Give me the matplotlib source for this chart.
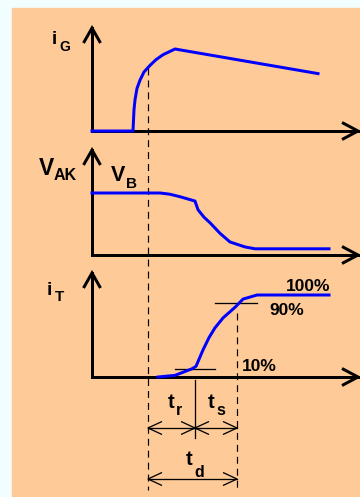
import matplotlib
matplotlib.use("Agg")
import matplotlib.pyplot as plt
import numpy as np

plt.rcParams["lines.scale_dashes"] = False
plt.rcParams["font.family"] = ["Liberation Sans", "DejaVu Sans"]

# ---- waveform data (time in µs, amplitude in % of full scale) ----
t_gate = [0.0, 4.1, 4.2, 4.3, 4.5, 4.8, 5.2, 5.8, 6.4, 7.1, 8.3, 22.6]
i_gate = [0, 0, 26, 38, 52, 62, 72, 80, 87, 93, 100, 70]

t_vak = [0.0, 6.8, 7.8, 8.8, 10.3, 10.6, 11.2, 11.8, 12.8, 13.8, 15.3, 16.3, 23.7]
v_ak = [100, 100, 98, 94, 87, 73, 61, 52, 35, 21, 13, 10, 10]

t_it = [6.6, 8.3, 10.0, 10.4, 11.1, 11.7, 12.3, 13.1, 14.3, 15.1, 16.5, 23.7]
i_t = [0, 2, 10, 13, 33, 48, 60, 72, 85, 95, 100, 100]

# switching instants (µs) and anode-current levels (%)
t_trigger = 5.6
t_10 = 10.3
t_90 = 14.5
level_10 = 10
level_90 = 90
level_labels = ["100%", "90%", "10%"]

# ---- drawing geometry (pixels) ----
W, H = 360, 497
X0 = 92            # vertical axis position
X_END = 358        # horizontal arrow tip
PX_PER_US = 10.0
panels = {           # baseline y, arrow-tip y, pixels per %
    "gate": (131, 28, 0.82),
    "vak": (255, 150, 0.62),
    "it": (377, 273, 0.82),
}

BLUE = "#0000FF"
BG = "#FECB98"

fig = plt.figure(figsize=(W / 100, H / 100), dpi=100, facecolor="#F2FEFE")
ax = fig.add_axes([0, 0, 1, 1])
ax.set_xlim(0, W)
ax.set_ylim(H, 0)
ax.axis("off")
ax.add_patch(plt.Rectangle((12, 8), W - 12, H - 8, color=BG, zorder=0))


def px_x(t):
    return X0 + np.asarray(t, float) * PX_PER_US


def px_y(panel, v):
    base, _, scale = panels[panel]
    return base - np.asarray(v, float) * scale


AX_LW = 3 * 0.72
THIN = 1.3 * 0.72


def open_head(tip, direction, length, half, lw):
    d = np.asarray(direction, float)
    d = d / np.hypot(*d)
    n = np.array([-d[1], d[0]])
    tip = np.asarray(tip, float)
    back = tip - d * length
    pts = np.array([back + n * half, tip, back - n * half])
    ax.plot(pts[:, 0], pts[:, 1], color="black", lw=lw,
            solid_joinstyle="miter", solid_capstyle="butt", zorder=3)


for name, (base, top, _) in panels.items():
    ax.plot([X0, X0, X_END], [top, base, base], color="black", lw=AX_LW,
            solid_joinstyle="miter", zorder=3)
    open_head((X0, top), (0, -1), 15, 8.5, AX_LW)
    open_head((X_END, base), (1, 0), 16, 8.5, AX_LW)

# waveforms
ax.plot(px_x(t_gate), px_y("gate", i_gate), color=BLUE, lw=AX_LW, zorder=4)
ax.plot(px_x(t_vak), px_y("vak", v_ak), color=BLUE, lw=AX_LW, zorder=4)
ax.plot(px_x(t_it), px_y("it", i_t), color=BLUE, lw=AX_LW, zorder=4)

# 10 % and 90 % markers
y10 = px_y("it", level_10)
y90 = px_y("it", level_90)
ax.plot([px_x(t_10) - 20, px_x(t_10) + 20], [y10, y10], color="black", lw=THIN, zorder=2)
ax.plot([px_x(t_90) - 22, px_x(t_90) + 20], [y90, y90], color="black", lw=THIN, zorder=2)

# timing guide lines
DASH = dict(color="black", lw=1.2 * 0.72, dashes=(5.0, 3.6), zorder=2)
ig_at_trigger = np.interp(t_trigger, t_gate, i_gate)
ax.plot([px_x(t_trigger)] * 2, [px_y("gate", ig_at_trigger), 490], **DASH)
ax.plot([px_x(t_90)] * 2, [y90 + 10, 490], **DASH)
ax.plot([px_x(t_10)] * 2, [380, 438], color="black", lw=THIN, zorder=2)

# dimension arrows
def dim(t_a, t_b, y):
    xa, xb = px_x(t_a), px_x(t_b)
    ax.plot([xa, xb], [y, y], color="black", lw=THIN, zorder=3)
    open_head((xa, y), (-1, 0), 14, 6.5, THIN)
    open_head((xb, y), (1, 0), 14, 6.5, THIN)


dim(t_trigger, t_10, 428)
dim(t_10, t_90, 428)
dim(t_trigger, t_90, 479)

# labels
B = dict(fontweight="bold", color="black", va="baseline", ha="left")


def sym(x, y, main, sub, size, subsize, dx, dy):
    ax.text(x, y, main, fontsize=size, **B)
    ax.text(x + dx, y + dy, sub, fontsize=subsize, **B)


sym(52, 44, "i", "G", 13.5, 10, 7, 7)
sym(39, 175, "V", "AK", 16.5, 11.5, 15, 5)
sym(111, 181, "V", "B", 15.5, 11, 15, 7)
sym(47, 295, "i", "T", 14, 11, 8, 6)
sym(168, 408, "t", "r", 14.5, 11.5, 8, 7)
sym(208, 408, "t", "s", 14.5, 11.5, 8, 7)
sym(186, 465, "t", "d", 14.5, 11.5, 8, 12)

ax.text(286, 291, level_labels[0], fontsize=12.5, **B)
ax.text(269, 315, level_labels[1], fontsize=12.5, **B)
ax.text(242, 371, level_labels[2], fontsize=12.5, **B)

fig.savefig("out.png", dpi=100, facecolor=fig.get_facecolor())
